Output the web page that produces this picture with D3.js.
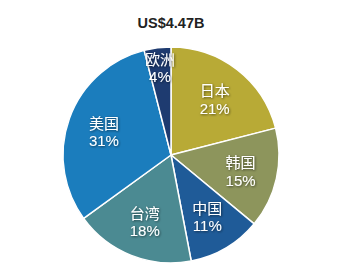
<!DOCTYPE html>
<html>
<head>
<meta charset="utf-8">
<script src="https://cdn.jsdelivr.net/npm/d3@7"></script>
<style>
  body { margin: 0; background: #fff; }
  text { font-family: "Liberation Sans", Arial, "Noto Sans CJK SC", sans-serif; }
</style>
</head>
<body>
<svg id="pieSvg"></svg>
<script>
// data
var regions = ["日本", "韩国", "中国", "台湾", "美国", "欧洲"];
var shares = [21, 15, 11, 18, 31, 4];
var sliceColors = ["#b8aa36", "#8d955c", "#1f5b98", "#4b8a92", "#1b7dbd", "#1e3b70"];
var totalLabel = "US$4.47B";

var width = 343, height = 274,
    cx = 171, cy = 155, radius = 108;

var svg = d3.select("#pieSvg")
    .attr("width", width)
    .attr("height", height);

// title
svg.append("text")
    .attr("x", 171)
    .attr("y", 28)
    .attr("text-anchor", "middle")
    .style("font-weight", "bold")
    .style("font-size", "14.5px")
    .style("fill", "#222")
    .text(totalLabel);

var defs = svg.append("defs");
var shadow = defs.append("filter").attr("id", "txtShadow")
    .attr("x", "-20%").attr("y", "-20%").attr("width", "140%").attr("height", "140%");
shadow.append("feDropShadow")
    .attr("dx", 0.8).attr("dy", 0.8).attr("stdDeviation", 0.8)
    .attr("flood-color", "#000").attr("flood-opacity", 0.6);

var data = regions.map(function(r, i) {
    return {region: r, share: shares[i], color: sliceColors[i]};
});

var pie = d3.pie()
    .sort(null)
    .value(function(d) { return d.share; });

var arc = d3.arc()
    .innerRadius(0)
    .outerRadius(radius);

// label radius: small slices push the label further out
function labelArc(d) {
    var r = d.data.share < 6 ? radius * 0.82 : radius * 0.66;
    return d3.arc().innerRadius(r).outerRadius(r).centroid(d);
}

var g = svg.append("g")
    .attr("transform", "translate(" + cx + "," + cy + ")");

var arcs = pie(data);

g.selectAll(".slice")
    .data(arcs)
    .enter().append("path")
    .attr("class", "slice")
    .attr("d", arc)
    .attr("fill", function(d) { return d.data.color; })
    .attr("stroke", "#fff")
    .attr("stroke-width", 1.5)
    .attr("stroke-linejoin", "round");

var labels = g.selectAll(".lbl")
    .data(arcs)
    .enter().append("text")
    .attr("class", "lbl")
    .attr("text-anchor", "middle")
    .attr("filter", "url(#txtShadow)")
    .style("fill", "#fff")
    .style("font-size", "15px")
    .attr("transform", function(d) {
        var c = labelArc(d);
        return "translate(" + c[0] + "," + c[1] + ")";
    });

labels.append("tspan")
    .attr("x", 0)
    .attr("dy", "-0.15em")
    .text(function(d) { return d.data.region; });

labels.append("tspan")
    .attr("x", 0)
    .attr("dy", "1.15em")
    .text(function(d) { return d.data.share + "%"; });
</script>
</body>
</html>
